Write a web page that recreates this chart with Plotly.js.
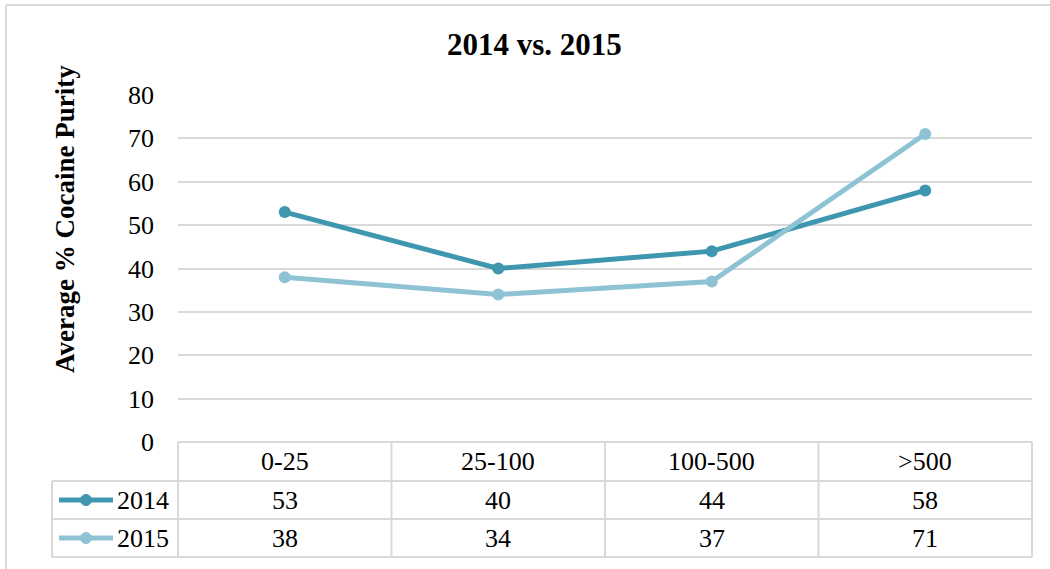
<!DOCTYPE html>
<html>
<head>
<meta charset="utf-8">
<script src="https://cdn.plot.ly/plotly-3.0.1.min.js"></script>
<style>html,body{margin:0;padding:0;background:#fff;}#chart{width:1050px;height:569px;}</style>
</head>
<body>
<div id="chart"></div>
<script>
const categories = ['0-25', '25-100', '100-500', '>500'];
const seriesNames = ['2014', '2015'];
const values2014 = [53, 40, 44, 58];
const values2015 = [38, 34, 37, 71];
const yTicks = [0, 10, 20, 30, 40, 50, 60, 70, 80];

const colors = ['#3F97AF', '#8EC3D5'];
const gridColor = '#D9D9D9';
const FONT = 'Liberation Serif, Times New Roman, serif';

const W = 1050, H = 569;
const L = 178, R = 1032, T = 95, B = 442;
const px2x = p => (p - L) / (R - L);
const py2y = p => (B - p) / (B - T);

const allSeries = [values2014, values2015];

const traces = allSeries.map((vals, i) => ({
  x: categories,
  y: vals,
  type: 'scatter',
  mode: 'lines+markers',
  name: seriesNames[i],
  line: {color: colors[i], width: 5},
  marker: {color: colors[i], size: 12},
  hoverinfo: 'x+y+name'
}));

const shapes = [];
const annotations = [];
const lineStyle = {color: gridColor, width: 2};
function hline(x0, x1, y) {
  shapes.push({type: 'line', xref: 'paper', yref: 'paper', x0: px2x(x0), x1: px2x(x1), y0: py2y(y), y1: py2y(y), line: lineStyle});
}
function vline(x, y0, y1) {
  shapes.push({type: 'line', xref: 'paper', yref: 'paper', x0: px2x(x), x1: px2x(x), y0: py2y(y0), y1: py2y(y1), line: lineStyle});
}

// table grid
hline(L, R, 442);
hline(52, R, 481);
hline(52, R, 519);
hline(52, R, 557);
const colW = (R - L) / categories.length;
for (let c = 0; c <= categories.length; c++) vline(L + c * colW, 442, 557);
vline(52, 481, 557);

// outer chart border (left & top)
shapes.push({type: 'line', xref: 'paper', yref: 'paper', x0: px2x(6), x1: px2x(6), y0: py2y(5), y1: py2y(569), line: {color: gridColor, width: 2}});
shapes.push({type: 'line', xref: 'paper', yref: 'paper', x0: px2x(6), x1: px2x(1050), y0: py2y(5), y1: py2y(5), line: {color: gridColor, width: 2}});

const cellFont = {family: FONT, size: 26, color: '#000'};
// category row
categories.forEach((c, i) => {
  annotations.push({xref: 'x', yref: 'paper', x: i, y: py2y(462), text: c, showarrow: false, font: cellFont, xanchor: 'center', yanchor: 'middle'});
});
// value rows + legend keys
const rowCenters = [500, 538];
allSeries.forEach((vals, s) => {
  const yc = rowCenters[s];
  vals.forEach((v, i) => {
    annotations.push({xref: 'x', yref: 'paper', x: i, y: py2y(yc), text: String(v), showarrow: false, font: cellFont, xanchor: 'center', yanchor: 'middle'});
  });
  shapes.push({type: 'line', xref: 'paper', yref: 'paper', x0: px2x(59), x1: px2x(113), y0: py2y(yc), y1: py2y(yc), line: {color: colors[s], width: 5}});
  shapes.push({type: 'circle', xref: 'paper', yref: 'paper', x0: px2x(80.5), x1: px2x(91.5), y0: py2y(yc - 5.5), y1: py2y(yc + 5.5), fillcolor: colors[s], line: {color: colors[s], width: 1}});
  annotations.push({xref: 'paper', yref: 'paper', x: px2x(115), y: py2y(yc), text: seriesNames[s], showarrow: false, font: cellFont, xanchor: 'left', yanchor: 'middle'});
});

// title
annotations.push({xref: 'paper', yref: 'paper', x: px2x(534), y: py2y(45), text: '<b>2014 vs. 2015</b>', showarrow: false, font: {family: FONT, size: 31, color: '#000'}, xanchor: 'center', yanchor: 'middle'});
// y-axis title
annotations.push({xref: 'paper', yref: 'paper', x: px2x(65), y: py2y(219), text: '<b>Average % Cocaine Purity</b>', textangle: -90, showarrow: false, font: {family: FONT, size: 27, color: '#000'}, xanchor: 'center', yanchor: 'middle'});

const layout = {
  width: W, height: H,
  margin: {l: L, r: W - R, t: T, b: H - B, pad: 0},
  paper_bgcolor: '#fff', plot_bgcolor: '#fff',
  showlegend: false,
  xaxis: {
    type: 'category', range: [-0.5, categories.length - 0.5],
    showgrid: false, zeroline: false, showline: false, showticklabels: false, ticks: '', fixedrange: true
  },
  yaxis: {
    range: [0, 80], tickvals: yTicks, ticktext: yTicks.map(String),
    showgrid: true, gridcolor: gridColor, gridwidth: 2,
    zeroline: false, showline: false, ticks: '',
    ticklabelstandoff: 23,
    tickfont: {family: FONT, size: 26, color: '#000'}, fixedrange: true
  },
  shapes: shapes,
  annotations: annotations
};

Plotly.newPlot('chart', traces, layout, {displayModeBar: false, staticPlot: true});
</script>
</body>
</html>
